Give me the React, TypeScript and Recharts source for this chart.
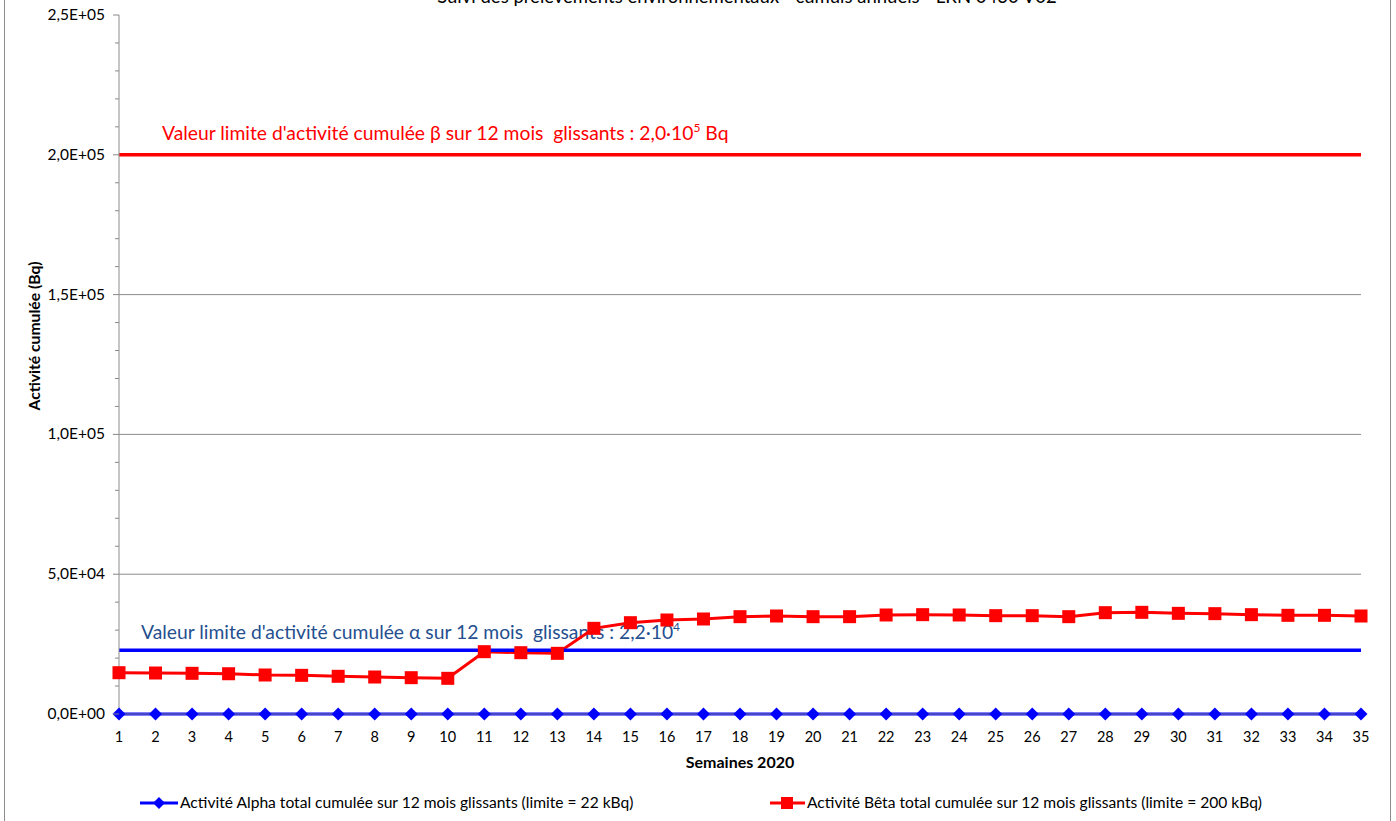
import React from 'react';
import { LineChart, Line, XAxis, YAxis, CartesianGrid, ReferenceLine } from 'recharts';

const weeks = [1,2,3,4,5,6,7,8,9,10,11,12,13,14,15,16,17,18,19,20,21,22,23,24,25,26,27,28,29,30,31,32,33,34,35];
const betaValues = [14770,14660,14550,14400,13950,13830,13480,13230,12990,12760,22290,21930,21700,30640,32660,33620,33980,34810,35050,34810,34810,35410,35530,35410,35170,35170,34810,36240,36360,36000,35890,35530,35290,35290,35050];
const alphaValues = [0,0,0,0,0,0,0,0,0,0,0,0,0,0,0,0,0,0,0,0,0,0,0,0,0,0,0,0,0,0,0,0,0,0,0];
const betaLimit = 200000;
const alphaLimit = 22800;
const yTicks = [0,10000,20000,30000,40000,50000,60000,70000,80000,90000,100000,110000,120000,130000,140000,150000,160000,170000,180000,190000,200000,210000,220000,230000,240000,250000];
const yMajor = [0,50000,100000,150000,200000,250000];
const gridValues = [0,50000,100000,150000,200000];

const titleText = 'Suivi des prélèvements environnementaux - cumuls annuels - LRN 0430 V02';
const alphaName = 'Activité Alpha total cumulée sur 12 mois glissants (limite = 22 kBq)';
const betaName = 'Activité Bêta total cumulée sur 12 mois glissants (limite = 200 kBq)';
const betaLimitText = "Valeur limite d'activité cumulée β sur 12 mois\u00A0 glissants : 2,0·10";
const alphaLimitText = "Valeur limite d'activité cumulée α sur 12 mois\u00A0 glissants : 2,2·10";

const data = weeks.map((w, i) => ({ week: w, alpha: alphaValues[i], beta: betaValues[i] }));

const FONT = 'Lato, "Open Sans", sans-serif';
const BLUE = '#0000FF';
const RED = '#FF0000';

function fmtSci(v: number) {
  if (v === 0) return '0,0E+00';
  const e = Math.floor(Math.log10(v));
  const m = (v / Math.pow(10, e)).toFixed(1).replace('.', ',');
  return `${m}E+${String(e).padStart(2, '0')}`;
}

const YTick = (props: any) => {
  const { x, y, payload } = props;
  const axisX = x + 15;
  const major = yMajor.includes(payload.value);
  return (
    <g>
      <line x1={axisX - (major ? 6 : 4)} x2={axisX} y1={y} y2={y} stroke="#888" strokeWidth={1} />
      {major && (
        <text x={x + 1} y={y + 5} textAnchor="end" fontFamily={FONT} fontSize={15.5} fill="#000">
          {fmtSci(payload.value)}
        </text>
      )}
    </g>
  );
};

const XTick = (props: any) => {
  const { x, y, payload } = props;
  return (
    <text x={x} y={y + 28} textAnchor="middle" fontFamily={FONT} fontSize={14.5} fill="#000">
      {payload.value}
    </text>
  );
};

const Diamond = (props: any) => {
  const { cx, cy } = props;
  if (cx == null || cy == null) return null;
  const r = 6.5;
  return <polygon points={`${cx},${cy - r} ${cx + r},${cy} ${cx},${cy + r} ${cx - r},${cy}`} fill={BLUE} />;
};

const Square = (props: any) => {
  const { cx, cy } = props;
  if (cx == null || cy == null) return null;
  const s = 13;
  return <rect x={cx - s / 2} y={cy - s / 2} width={s} height={s} fill={RED} />;
};

const BetaLabel = (props: any) => {
  const vb = props.viewBox || {};
  return (
    <text x={vb.x + 43} y={vb.y - 15} fontFamily={FONT} fontSize={19.3} fill={RED}>
      {betaLimitText}
      <tspan dy={-8} fontSize={12}>5</tspan>
      <tspan dy={8} fontSize={19.3}> Bq</tspan>
    </text>
  );
};

const AlphaLabel = (props: any) => {
  const vb = props.viewBox || {};
  return (
    <text x={vb.x + 22} y={vb.y - 11} fontFamily={FONT} fontSize={19.3} fill="#254F8F">
      {alphaLimitText}
      <tspan dy={-8} fontSize={12}>4</tspan>
    </text>
  );
};

const XLabel = (props: any) => {
  const vb = props.viewBox || {};
  return (
    <text x={vb.x + vb.width / 2} y={vb.y + 54} textAnchor="middle" fontFamily={FONT} fontSize={16} fontWeight="bold" fill="#000">
      Semaines 2020
    </text>
  );
};

const YLabel = () => {
  const cx = 40;
  const cy = 336;
  return (
    <text x={cx} y={cy} transform={`rotate(-90 ${cx} ${cy})`} textAnchor="middle" fontFamily={FONT} fontSize={15.7} fontWeight="bold" fill="#000">
      Activité cumulée (Bq)
    </text>
  );
};

const LegendBox = () => (
  <svg width={1396} height={24} style={{ display: 'block' }}>
    <line x1={140} x2={178} y1={12} y2={12} stroke={BLUE} strokeWidth={3} />
    <polygon points="159,6 165,12 159,18 153,12" fill={BLUE} />
    <text x={180} y={17} fontFamily={FONT} fontSize={15.6} fill="#000">{alphaName}</text>
    <line x1={770} x2={805} y1={12} y2={12} stroke={RED} strokeWidth={3} />
    <rect x={781} y={6} width={12} height={12} fill={RED} />
    <text x={807} y={17} fontFamily={FONT} fontSize={15.6} fill="#000">{betaName}</text>
  </svg>
);

export default function App() {
  return (
    <div style={{ position: 'absolute', left: 0, top: 0, width: 1396, height: 821, overflow: 'hidden', background: '#fff' }}>
      <div style={{ position: 'absolute', left: 4, top: -20, width: 1385, height: 900, border: '1px solid #8c8c8c' }} />
      <div style={{ position: 'absolute', left: 0, top: -15, width: 1396, textAlign: 'center', fontFamily: FONT, fontSize: 18.5, lineHeight: '22px', paddingLeft: 98, boxSizing: 'border-box', whiteSpace: 'nowrap' }}>
        {titleText}
      </div>
      <div style={{ position: 'absolute', left: 0, top: 0 }}>
        <LineChart width={1396} height={821} data={data} margin={{ top: 15, right: 35, left: 19, bottom: 47 }}>
          <CartesianGrid vertical={false} horizontalValues={gridValues} stroke="#8c8c8c" strokeWidth={1} />
          <XAxis
            dataKey="week"
            type="number"
            domain={[1, 35]}
            ticks={weeks}
            interval={0}
            height={60}
            tickLine={false}
            tickSize={0}
            tickMargin={0}
            tick={<XTick />}
            axisLine={{ stroke: '#8c8c8c' }}
            label={<XLabel />}
          />
          <YAxis
            type="number"
            domain={[0, 250000]}
            ticks={yTicks}
            interval={0}
            width={100}
            tickLine={false}
            tickSize={6}
            tickMargin={9}
            tick={<YTick />}
            axisLine={{ stroke: '#8c8c8c' }}
            label={<YLabel />}
          />
          <ReferenceLine y={betaLimit} stroke={RED} strokeWidth={3.5} label={<BetaLabel />} />
          <ReferenceLine y={alphaLimit} stroke="none" label={<AlphaLabel />} />
          <Line dataKey="alpha" stroke={BLUE} strokeWidth={3} dot={<Diamond />} activeDot={false} isAnimationActive={false} />
          <Line dataKey="beta" stroke={RED} strokeWidth={3} dot={<Square />} activeDot={false} isAnimationActive={false} />
          <ReferenceLine y={alphaLimit} stroke={BLUE} strokeWidth={3.5} />
        </LineChart>
      </div>
      <div style={{ position: 'absolute', left: 0, top: 791 }}>
        <LegendBox />
      </div>
    </div>
  );
}
